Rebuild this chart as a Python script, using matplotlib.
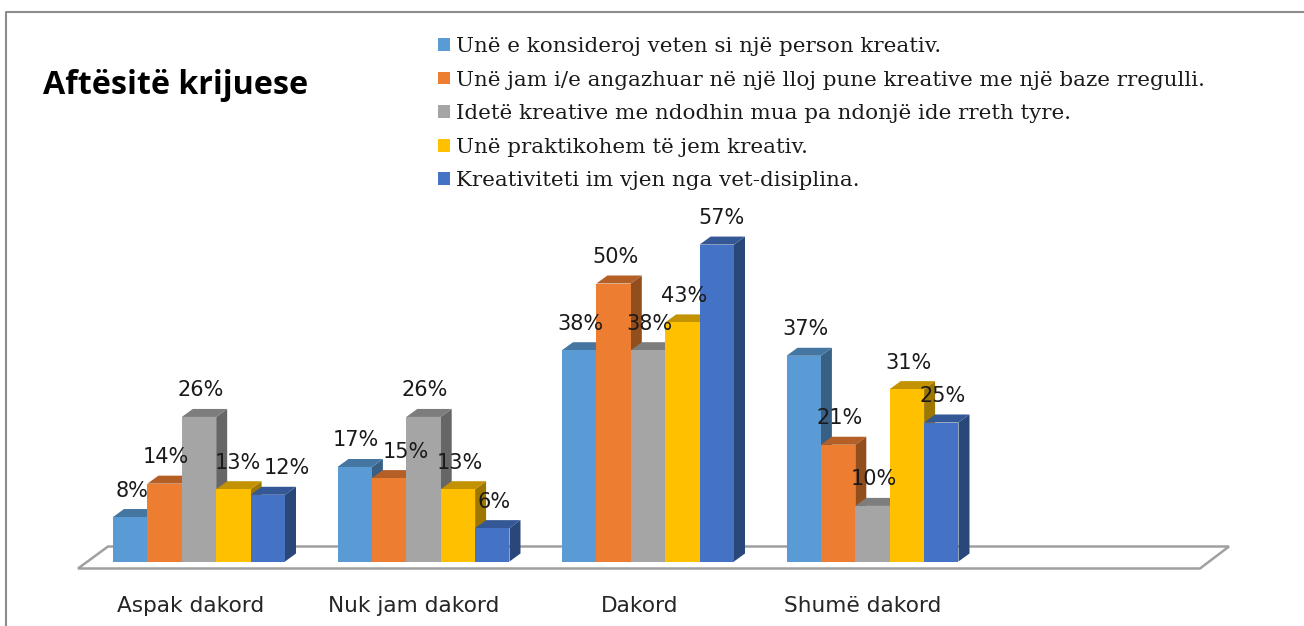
import numpy as np
import matplotlib
matplotlib.use('Agg')
import matplotlib.pyplot as plt
from matplotlib.colors import to_rgb
from matplotlib.patches import Polygon

# Chart data
categories = ['Aspak dakord', 'Nuk jam dakord', 'Dakord', 'Shumë dakord']
series_names = [
    'Unë e konsideroj veten si një person kreativ.',
    'Unë jam i/e angazhuar në një lloj pune kreative me një baze rregulli.',
    'Idetë kreative me ndodhin mua pa ndonjë ide rreth tyre.',
    'Unë praktikohem të jem kreativ.',
    'Kreativiteti im vjen nga vet-disiplina.',
]
s1 = [8, 17, 38, 37]
s2 = [14, 15, 50, 21]
s3 = [26, 26, 38, 10]
s4 = [13, 13, 43, 31]
s5 = [12, 6, 57, 25]
colors = ['#5B9BD5', '#ED7D31', '#A5A5A5', '#FFC000', '#4472C4']

W, H = 1304, 626
PX_X = 224.5  # pixels per category
PX_Y = 5.56   # pixels per percent
X0, Y0 = 199.0, 561.5  # pixel position of first category centre / zero line


def to_x(px):
    return (px - X0) / PX_X


def to_y(py):
    return (Y0 - py) / PX_Y


def shade(color, f):
    return tuple(c * f for c in to_rgb(color))


fig = plt.figure(figsize=(W / 100, H / 100), dpi=100, facecolor='white')
ax = fig.add_axes([0, 0, 1, 1])
ax.set_xlim(to_x(0), to_x(W))
ax.set_ylim(to_y(H), to_y(0))
ax.axis('off')

# Outer border, only top and left are visible in the crop
ax.plot([to_x(6), to_x(6), to_x(W)], [to_y(H), to_y(12), to_y(12)], color='#8c8c8c', lw=1.5)

# Floor of the 3D plot
floor = [(to_x(78), to_y(568.5)), (to_x(1200), to_y(568.5)), (to_x(1229), to_y(546.5)), (to_x(108), to_y(546.5))]
ax.add_patch(Polygon(floor, closed=True, facecolor='white', edgecolor='#a0a0a0', lw=1.8, zorder=1))

bar_w = 34.4 / PX_X
dx = 11 / PX_X  # depth of the bars
dy = 8 / PX_Y
x = np.arange(len(categories))
all_series = [s1, s2, s3, s4, s5]

handles = []
for i, values in enumerate(all_series):
    pos = x + (i - 2) * bar_w
    z = 2 + i
    b = ax.bar(pos, values, width=bar_w, color=colors[i], zorder=z + 0.5)
    handles.append(b)
    for p, v in zip(pos, values):
        l, r = p - bar_w / 2, p + bar_w / 2
        # side and top faces
        ax.add_patch(Polygon([(r, 0), (r + dx, dy), (r + dx, v + dy), (r, v)],
                             facecolor=shade(colors[i], 0.62), edgecolor='none', zorder=z))
        ax.add_patch(Polygon([(l, v), (l + dx, v + dy), (r + dx, v + dy), (r, v)],
                             facecolor=shade(colors[i], 0.76), edgecolor='none', zorder=z))

# Data labels, a few of them sit off to the right in the original
label_nudge = {(0, 4): 19, (1, 1): 17, (2, 4): 5, (0, 3): 4}
for i, values in enumerate(all_series):
    pos = x + (i - 2) * bar_w
    for j, (p, v) in enumerate(zip(pos, values)):
        nudge = label_nudge.get((j, i), 1.5)
        ax.annotate(f'{v}%', (p, v), xytext=(nudge * 0.72, 26.5 * 0.72), textcoords='offset points',
                    ha='center', va='center', fontsize=15, color='#1a1a1a', zorder=20)

# Category labels
label_px = [191, 414, 640, 863]
for px, name in zip(label_px, categories):
    ax.text(to_x(px), to_y(606), name, ha='center', va='center', fontsize=15.6, color='#262626')

ax.text(to_x(43), to_y(86), 'Aftësitë krijuese', ha='left', va='center', fontsize=23.2,
        family='Open Sans', fontweight='bold', color='black')

leg = ax.legend([h[0] for h in handles], series_names, loc='upper left',
                bbox_to_anchor=(438 / W, 1 - 37 / H), frameon=False,
                prop={'family': 'DejaVu Serif', 'size': 15.4},
                handlelength=0.55, handleheight=0.55, handletextpad=0.3, labelspacing=0.68,
                borderaxespad=0, borderpad=0)
for t in leg.get_texts():
    t.set_color('#1a1a1a')
leg.set_zorder(30)

fig.savefig('out.png', dpi=100)
